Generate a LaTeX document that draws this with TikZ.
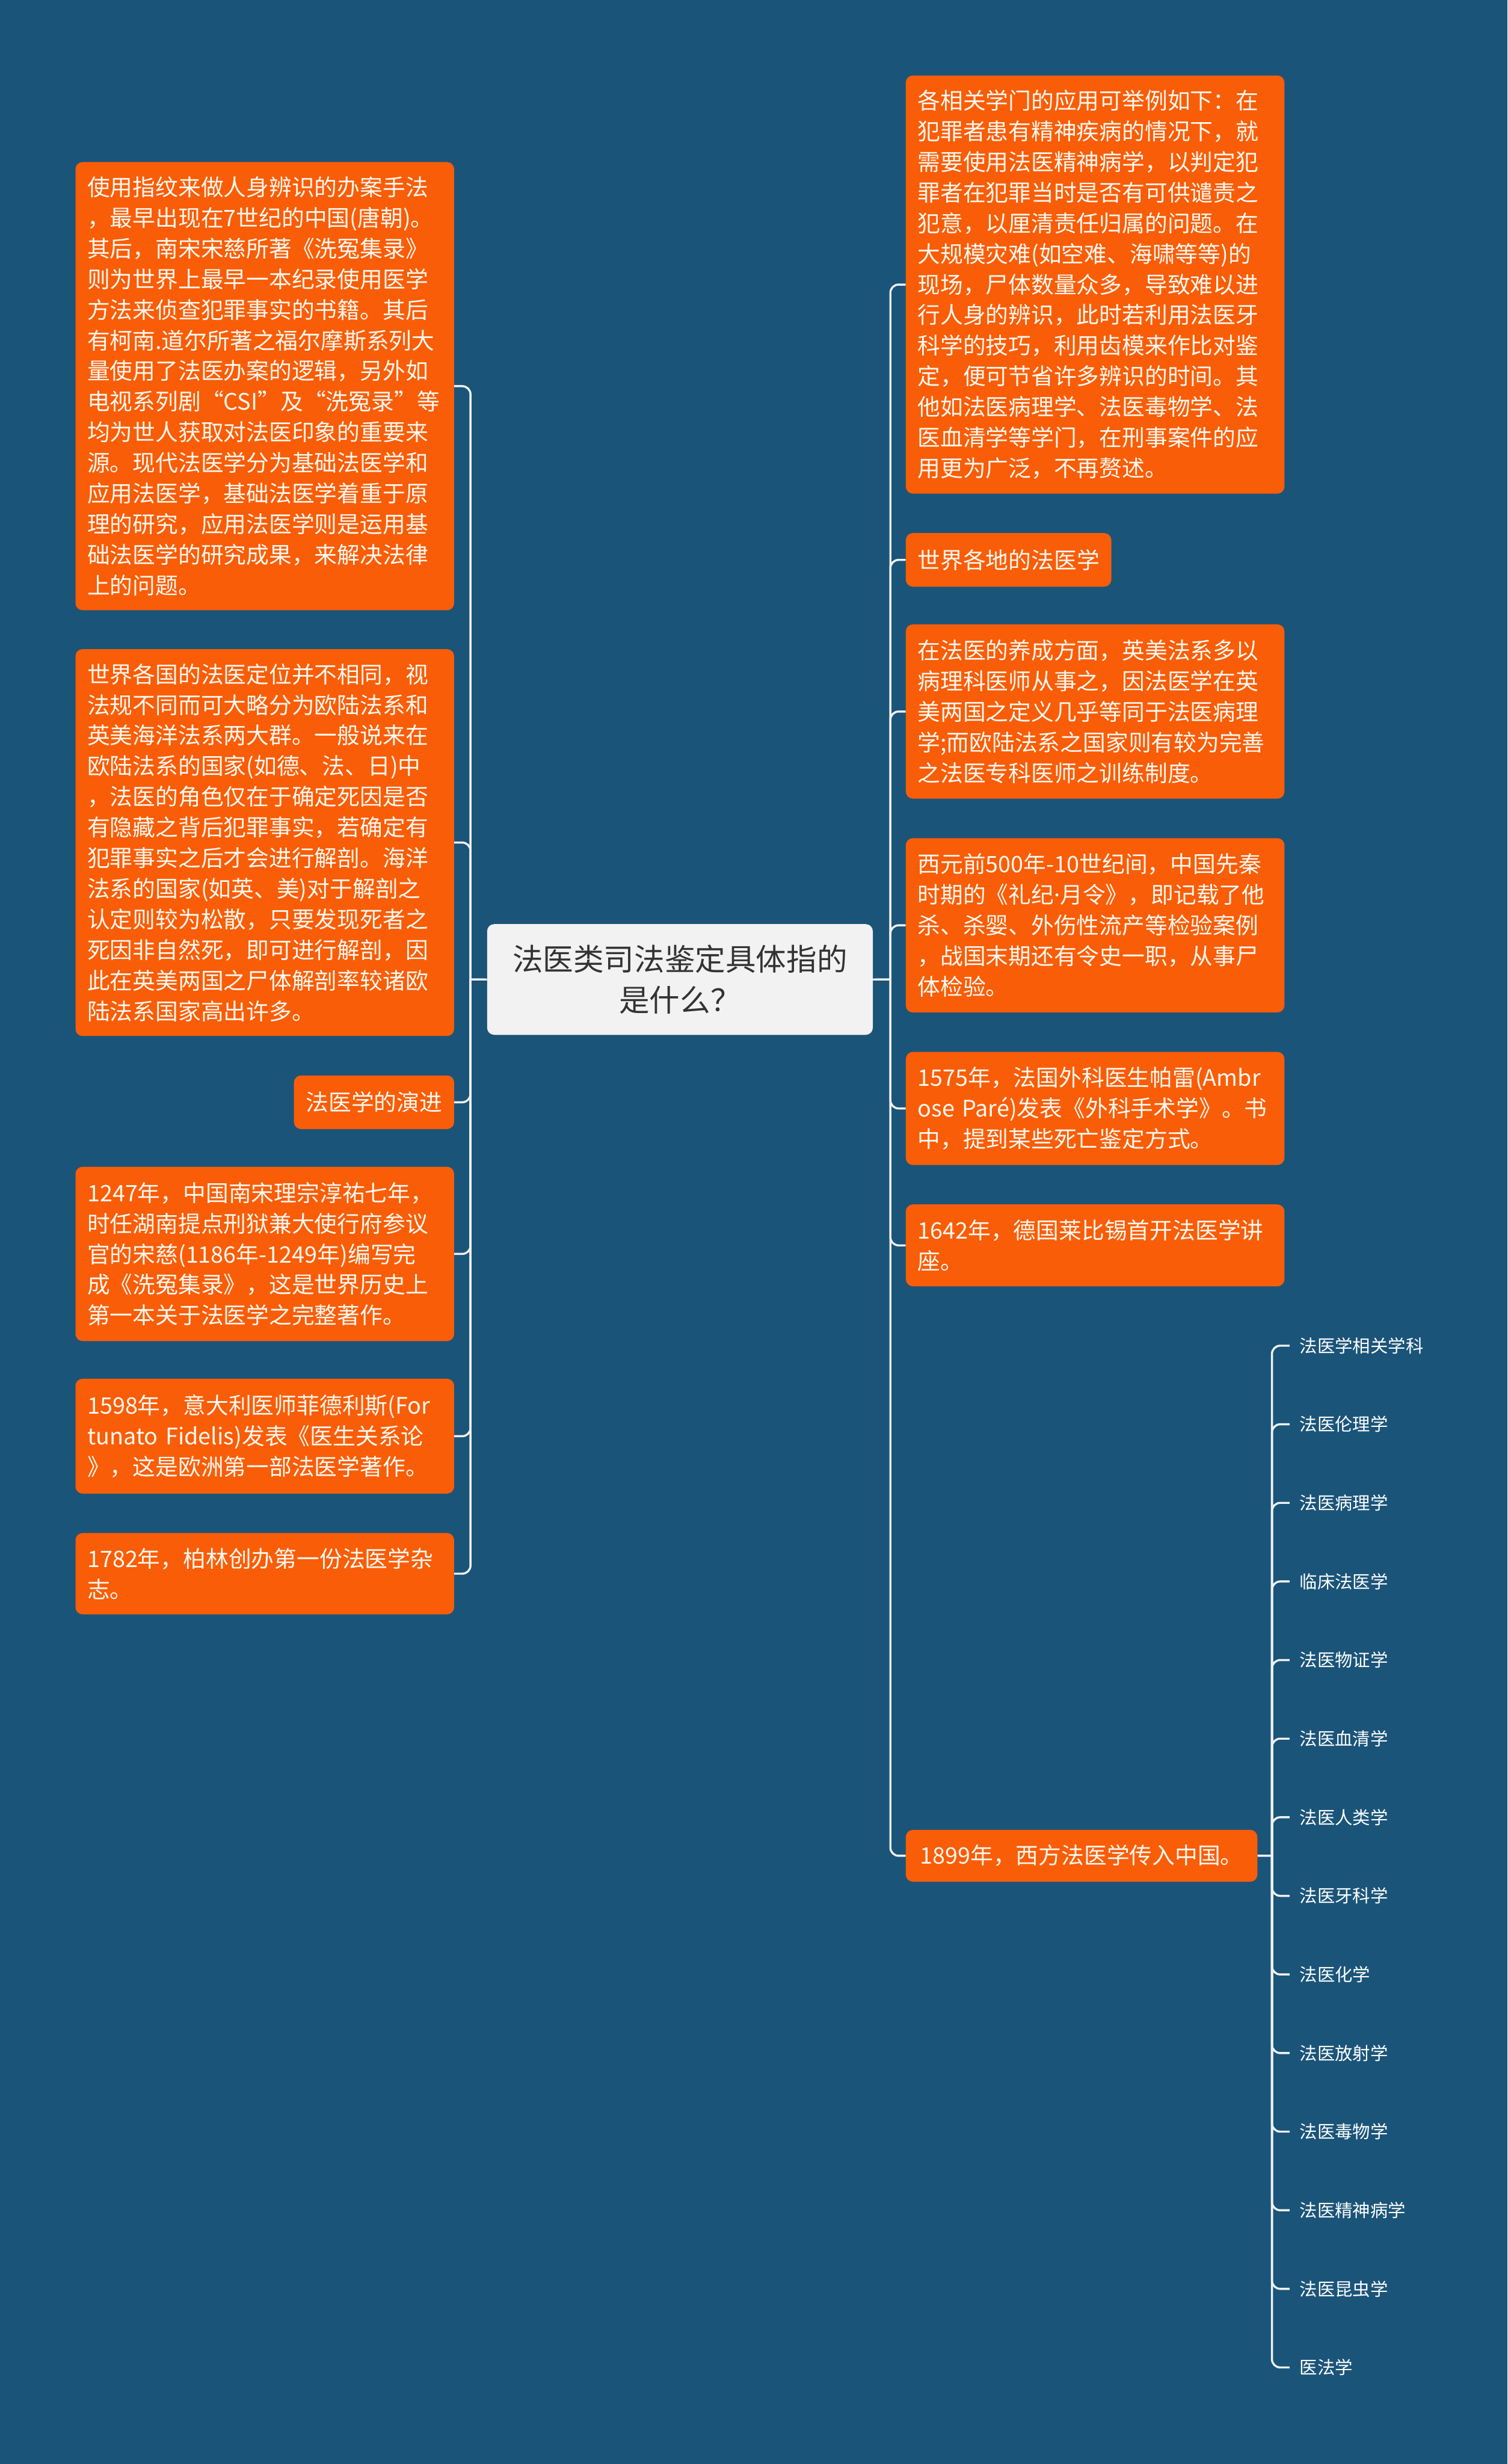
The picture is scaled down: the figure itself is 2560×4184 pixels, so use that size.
\documentclass[tikz,border=0pt]{standalone}
\usepackage{fontspec}
\setmainfont{Noto Sans CJK SC}
\newfontfamily\latinfont{Noto Sans}
\definecolor{bg}{HTML}{1B5479}
\definecolor{org}{HTML}{F95D07}
\definecolor{ctr}{HTML}{F2F2F2}
\definecolor{ln}{HTML}{EEF2F5}
\definecolor{txt}{HTML}{FFF8F0}
\definecolor{dark}{HTML}{333333}
\tikzset{
  box/.style={fill=org, rounded corners=12pt, text=txt, anchor=north west,
    inner xsep=20pt, inner ysep=0pt, align=left,
    font=\fontsize{38.6}{52}\selectfont},
  onebox/.style={fill=org, rounded corners=12pt, text=txt, anchor=north west,
    inner xsep=0pt, inner ysep=0pt, font=\fontsize{38.6}{52}\selectfont},
  centre/.style={fill=ctr, rounded corners=12pt, text=dark, anchor=north west,
    inner sep=0pt, align=center, minimum width=655pt, minimum height=188pt,
    font=\fontsize{51.7}{69}\selectfont},
  conn/.style={draw=ln, line width=3.5pt, rounded corners=14pt},
  sub/.style={anchor=west, inner xsep=17pt, inner ysep=0pt, text=white,
    font=\fontsize{30}{36}\selectfont},
}
\begin{document}
\begin{tikzpicture}[x=1pt,y=-1pt]
\useasboundingbox (0,0) rectangle (2560,4184);
\fill[bg] (0,0) rectangle (2560,4184);

% centre
\node[centre] (c) at (827,1569) {法医类司法鉴定具体指的\\是什么？};
\coordinate (cL) at (799,1663);
\coordinate (cR) at (1512,1663);
\coordinate (cS) at (2160,3151);

% left column
\node[box, text width=603pt, minimum height=761pt] (L1) at (128,275) {使用指纹来做人身辨识的办案手法\\，最早出现在7世纪的中国(唐朝)。\\其后，南宋宋慈所著《洗冤集录》\\则为世界上最早一本纪录使用医学\\方法来侦查犯罪事实的书籍。其后\\有柯南.道尔所著之福尔摩斯系列大\\量使用了法医办案的逻辑，另外如\\电视系列剧“CSI”及“洗冤录”等\\均为世人获取对法医印象的重要来\\源。现代法医学分为基础法医学和\\应用法医学，基础法医学着重于原\\理的研究，应用法医学则是运用基\\础法医学的研究成果，来解决法律\\上的问题。};
\node[box, text width=603pt, minimum height=657pt] (L2) at (128,1102) {世界各国的法医定位并不相同，视\\法规不同而可大略分为欧陆法系和\\英美海洋法系两大群。一般说来在\\欧陆法系的国家(如德、法、日)中\\，法医的角色仅在于确定死因是否\\有隐藏之背后犯罪事实，若确定有\\犯罪事实之后才会进行解剖。海洋\\法系的国家(如英、美)对于解剖之\\认定则较为松散，只要发现死者之\\死因非自然死，即可进行解剖，因\\此在英美两国之尸体解剖率较诸欧\\陆法系国家高出许多。};
\node[onebox, minimum width=272pt, minimum height=91pt] (L3) at (499,1826) {法医学的演进};
\node[box, text width=603pt, minimum height=296pt] (L4) at (128,1981) {1247年，中国南宋理宗淳祐七年，\\时任湖南提点刑狱兼大使行府参议\\官的宋慈(1186年-1249年)编写完\\成《洗冤集录》，这是世界历史上\\第一本关于法医学之完整著作。};
\node[box, text width=603pt, minimum height=195pt] (L5) at (128,2341) {1598年，意大利医师菲德利斯(For\\tunato Fidelis)发表《医生关系论\\》，这是欧洲第一部法医学著作。};
\node[box, text width=603pt, minimum height=138pt] (L6) at (128,2603) {1782年，柏林创办第一份法医学杂\\志。};

% right column
\node[box, text width=603pt, minimum height=710pt] (R1) at (1538,128) {各相关学门的应用可举例如下：在\\犯罪者患有精神疾病的情况下，就\\需要使用法医精神病学，以判定犯\\罪者在犯罪当时是否有可供谴责之\\犯意，以厘清责任归属的问题。在\\大规模灾难(如空难、海啸等等)的\\现场，尸体数量众多，导致难以进\\行人身的辨识，此时若利用法医牙\\科学的技巧，利用齿模来作比对鉴\\定，便可节省许多辨识的时间。其\\他如法医病理学、法医毒物学、法\\医血清学等学门，在刑事案件的应\\用更为广泛，不再赘述。};
\node[onebox, minimum width=349pt, minimum height=91pt] (R2) at (1538,905) {世界各地的法医学};
\node[box, text width=603pt, minimum height=296pt] (R3) at (1538,1060) {在法医的养成方面，英美法系多以\\病理科医师从事之，因法医学在英\\美两国之定义几乎等同于法医病理\\学;而欧陆法系之国家则有较为完善\\之法医专科医师之训练制度。};
\node[box, text width=603pt, minimum height=296pt] (R4) at (1538,1423) {西元前500年-10世纪间，中国先秦\\时期的《礼纪{\latinfont ·}月令》，即记载了他\\杀、杀婴、外伤性流产等检验案例\\，战国末期还有令史一职，从事尸\\体检验。};
\node[box, text width=603pt, minimum height=192pt] (R5) at (1538,1786) {1575年，法国外科医生帕雷(Ambr\\ose Paré)发表《外科手术学》。书\\中，提到某些死亡鉴定方式。};
\node[box, text width=603pt, minimum height=139pt] (R6) at (1538,2045) {1642年，德国莱比锡首开法医学讲\\座。};
\node[onebox, minimum width=597pt, minimum height=88pt] (R7) at (1538,3107) {1899年，西方法医学传入中国。};

% connectors
\draw[conn] (c.west) -- (cL);
\draw[conn] (c.east) -- (cR);
\foreach \n in {L1,L2,L3,L4,L5,L6} { \draw[conn] (cL) |- (\n.east); }
\foreach \n in {R1,R2,R3,R4,R5,R6,R7} { \draw[conn] (cR) |- (\n.west); }
\draw[conn] (R7.east) -- (cS);

% sub list
\foreach \t [count=\i from 0] in {法医学相关学科,法医伦理学,法医病理学,临床法医学,法医物证学,法医血清学,法医人类学,法医牙科学,法医化学,法医放射学,法医毒物学,法医精神病学,法医昆虫学,医法学} {
  \node[sub] (s\i) at (2190,{2285+133.46*\i}) {\t};
  \draw[conn] (cS) |- (s\i.west);
}
\end{tikzpicture}
\end{document}
